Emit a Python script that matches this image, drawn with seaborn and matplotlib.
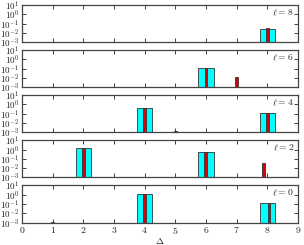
import numpy as np
import pandas as pd
import seaborn as sns
import matplotlib.pyplot as plt
from matplotlib.ticker import LogLocator, NullFormatter

sns.set_theme(style="ticks")
plt.rcParams['font.family'] = ['DejaVu Serif']
plt.rcParams['mathtext.fontset'] = 'cm'

# panels top to bottom
ells = [8, 6, 4, 2, 0]

# wide (cyan) bars: position, height
cyan_x = {8: [8], 6: [6], 4: [4, 8], 2: [2, 6], 0: [4, 8]}
cyan_h = {8: [0.025], 6: [0.12], 4: [0.45, 0.13], 2: [1.5, 0.48], 0: [1.1, 0.11]}

# narrow (red) bars: position, height
red_x = {8: [8.0], 6: [6.0, 7.0], 4: [4.0, 5.0, 8.0], 2: [2.0, 5.98, 7.87], 0: [1.0, 4.0, 8.06]}
red_h = {8: [0.034], 6: [0.12, 0.0126], 4: [0.45, 0.0013, 0.13], 2: [1.5, 0.48, 0.032], 0: [0.0012, 1.1, 0.11]}

xticks = list(range(10))


def native_bars(ax, xs, hs, width, color):
    xs = np.asarray(xs, dtype=float)
    u = np.unique(xs)
    step = np.diff(u).min() if len(u) > 1 else 1.0
    df = pd.DataFrame({'x': xs, 'y': hs})
    sns.barplot(data=df, x='x', y='y', native_scale=True, width=width / step,
                color=color, saturation=1, errorbar=None, edgecolor='#333333',
                linewidth=0.6, ax=ax)


fig, axs = plt.subplots(5, 1, figsize=(3.04, 2.45), dpi=100, sharex=True)
fig.subplots_adjust(left=22 / 304, right=298 / 304, top=1 - 5 / 245,
                    bottom=1 - 222.5 / 245, hspace=0.21)

for ax, ell in zip(axs, ells):
    ax.set_yscale('log')
    native_bars(ax, cyan_x[ell], cyan_h[ell], 0.5, '#00ffff')
    native_bars(ax, red_x[ell], red_h[ell], 0.08, '#e00000')
    ax.set_yscale('log')
    ax.set_ylim(1e-3, 1e1)
    ax.set_xlim(0, 9)
    ax.set_yticks([1e-3, 1e-2, 1e-1, 1e0, 1e1])
    ax.set_yticklabels([r'$10^{-3}$', r'$10^{-2}$', r'$10^{-1}$', r'$10^{0}$', r'$10^{1}$'])
    ax.yaxis.set_minor_locator(LogLocator(base=10, subs=np.arange(2, 10)))
    ax.yaxis.set_minor_formatter(NullFormatter())
    ax.set_xlabel('')
    ax.set_ylabel('')
    ax.tick_params(axis='both', which='major', direction='in', length=3, width=0.6,
                   top=True, right=True, labelsize=6.5, pad=2, colors='#222222')
    ax.tick_params(axis='both', which='minor', direction='in', length=1.5, width=0.5,
                   top=True, right=True)
    for s in ax.spines.values():
        s.set_color('#444444')
        s.set_linewidth(0.9)
    ax.text(0.985, 0.93, r'$\ell = %d$' % ell, transform=ax.transAxes,
            ha='right', va='top', fontsize=7)

axs[-1].set_xticks(xticks)
axs[-1].set_xticklabels([r'$%d$' % t for t in xticks])
axs[-1].tick_params(axis='x', labelsize=7)
axs[-1].set_xlabel(r'$\Delta$', fontsize=7, labelpad=0)

fig.savefig('out.png', dpi=100)
